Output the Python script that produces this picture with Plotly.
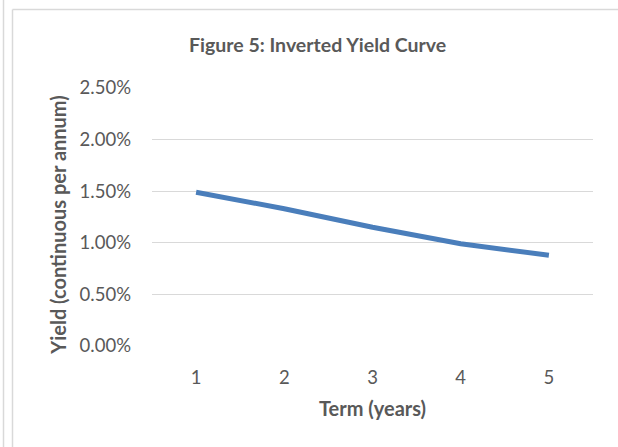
import plotly.graph_objects as go

terms = [1, 2, 3, 4, 5]
yields = [0.0149, 0.0133, 0.0115, 0.0099, 0.0088]
y_ticks = [0.0, 0.005, 0.01, 0.015, 0.02, 0.025]
title_text = "Figure 5: Inverted Yield Curve"
x_title = "Term (years)"
y_title = "Yield (continuous per annum)"

W, H = 618, 447
L, R, T, B = 152, 25, 87, 100
pw, ph = W - L - R, H - T - B
ypx = 0.025 / 258.0

def px_x(p):
    return (p - L) / pw

def px_y(p):
    return 1 - (p - T) / ph

FONT = "Lato"
GRAY = "#595959"

fig = go.Figure()
fig.add_trace(go.Scatter(
    x=terms, y=yields, mode="lines",
    line=dict(color="#4a7ebb", width=5),
    hoverinfo="skip", showlegend=False,
))

fig.update_layout(
    width=W, height=H,
    margin=dict(l=L, r=R, t=T, b=B, pad=0),
    paper_bgcolor="white", plot_bgcolor="white",
    font=dict(family=FONT, color=GRAY, size=18),
    xaxis=dict(range=[0.5, 5.5], tickvals=terms, showgrid=False, zeroline=False,
               showline=False, ticks="", ticklabelstandoff=17,
               tickfont=dict(size=18.5, color=GRAY)),
    yaxis=dict(range=[-ypx, 0.025 + ypx], tickvals=y_ticks, tickformat=".2%",
               showgrid=True, gridcolor="#d9d9d9", gridwidth=1, zeroline=False,
               showline=False, ticks="", ticklabelstandoff=20,
               tickfont=dict(size=18.5, color=GRAY)),
    annotations=[
        dict(text="<b>" + title_text + "</b>", xref="paper", yref="paper",
             x=px_x(317), y=px_y(45), xanchor="center", yanchor="middle",
             showarrow=False, font=dict(size=19.5, color=GRAY, family=FONT)),
        dict(text="<b>" + x_title + "</b>", xref="paper", yref="paper",
             x=px_x(372.5), y=px_y(408), xanchor="center", yanchor="middle",
             showarrow=False, font=dict(size=20, color=GRAY, family=FONT)),
        dict(text="<b>" + y_title + "</b>", xref="paper", yref="paper",
             x=px_x(58), y=px_y(225), xanchor="center", yanchor="middle",
             textangle=-90, showarrow=False, width=300, height=26,
             font=dict(size=20, color=GRAY, family=FONT)),
    ],
    shapes=[
        dict(type="line", xref="paper", yref="paper", x0=px_x(3.5), x1=px_x(3.5),
             y0=px_y(0), y1=px_y(H), line=dict(color="#d9d9d9", width=1.5)),
        dict(type="line", xref="paper", yref="paper", x0=px_x(12.5), x1=px_x(12.5),
             y0=px_y(9.5), y1=px_y(H), line=dict(color="#d9d9d9", width=1.5)),
        dict(type="line", xref="paper", yref="paper", x0=px_x(12.5), x1=px_x(W),
             y0=px_y(9.5), y1=px_y(9.5), line=dict(color="#d9d9d9", width=1.5)),
    ],
)

fig.write_html("out.html", config={"displayModeBar": False},
               post_script="document.body.style.margin='0';document.body.style.overflow='hidden';")
